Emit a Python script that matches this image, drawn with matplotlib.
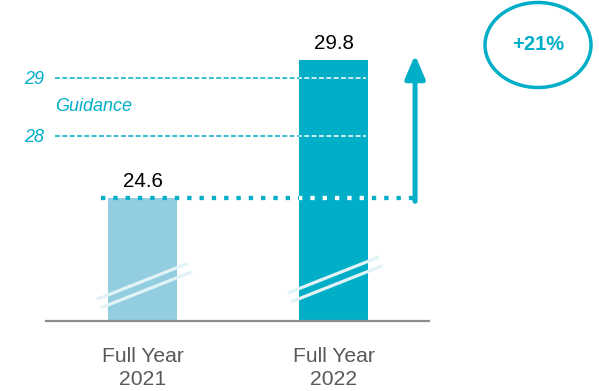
import matplotlib.pyplot as plt
import matplotlib.transforms as mtransforms
from matplotlib.patches import Ellipse
import numpy as np

plt.rcParams['font.family'] = ['Liberation Sans', 'DejaVu Sans']

# data
categories = ['Full Year\n2021', 'Full Year\n2022']
values = [24.6, 29.8]
guidance = [28, 29]
bar_colors = ['#92CEE0', '#00AEC7']

teal = '#00AEC7'
growth = (values[1] / values[0] - 1) * 100

# broken (not-to-scale) value axis: value -> pixel height above the baseline
anchor_vals = [-50, 0, values[0], guidance[0], guidance[1], values[1], 60]
anchor_px = [-246, 0, 122, 184.5, 242.5, 260, 260 + 30.2 * 22]


def forward(v):
    return np.interp(v, anchor_vals, anchor_px)


def inverse(h):
    return np.interp(h, anchor_px, anchor_vals)


fig = plt.figure(figsize=(5.99, 3.91), dpi=100)
ax = fig.add_axes([0, 70.5 / 391, 1, 320.5 / 391])
ax.set_yscale('function', functions=(forward, inverse))

x = np.arange(len(categories))
bars = ax.bar(x, values, width=0.361, color=bar_colors, zorder=2)

ax.set_xlim(-0.746, 2.390)
ax.set_ylim(0, inverse(320.5))

# guidance lines (white where they cross the 2022 bar)
for g in guidance:
    ax.hlines(g, -0.458, 1.170, colors=teal, linewidth=1.1,
              linestyles=(0, (3.2, 1.6)), zorder=1)
    wl = ax.hlines(g, -0.458, 1.170, colors='white', linewidth=1.1,
                   linestyles=(0, (3.2, 1.6)), zorder=3)
    wl.set_clip_path(bars[1])
ax.text(-0.458, np.mean(guidance), 'Guidance', color=teal, fontsize=13,
        style='italic', ha='left', va='center')

# dotted reference line at 2021 level
dot = dict(linewidth=3.1, linestyle=(0, (1.0, 1.86)), dash_capstyle='butt')
ax.plot([-0.217, 1.427], [values[0]] * 2, color=teal, zorder=4, **dot)
wd, = ax.plot([-0.217, 1.427], [values[0]] * 2, color='white', zorder=5, **dot)
wd.set_clip_path(bars[1])

# growth arrow
tip = mtransforms.offset_copy(ax.transData, fig=fig, x=0, y=4, units='points')
tail = mtransforms.offset_copy(ax.transData, fig=fig, x=0, y=-2, units='points')
ax.annotate('', xy=(1.427, values[1]), xycoords=tip,
            xytext=(1.427, values[0]), textcoords=tail,
            arrowprops=dict(arrowstyle='-|>,head_length=0.7,head_width=0.3',
                            mutation_scale=20, color=teal, lw=3.6,
                            shrinkA=0, shrinkB=0), zorder=6)

# value labels
for xi, v in zip(x, values):
    ax.annotate(f'{v:.1f}', xy=(xi, v), xytext=(0, 12.5),
                textcoords='offset points', ha='center', va='center',
                fontsize=14.8, color='black')

# axis-break marks on the bars
break_offsets = [0.392, 0.455]
for xi, off in zip(x, break_offsets):
    trans = fig.dpi_scale_trans + mtransforms.ScaledTranslation(xi, 0, ax.transData)
    for dx, dy in [(0, 0), (0.035, -0.087)]:
        ax.plot([-0.455 + dx, 0.455 + dx], [off - 0.18 + dy, off + 0.18 + dy],
                color='#E2F3F8', linewidth=2.3, transform=trans,
                solid_capstyle='butt', zorder=3)

# growth bubble
ax.add_patch(Ellipse((538 / 599, 1 - 45 / 320.5), 106 / 599, 85 / 320.5,
                     transform=ax.transAxes, fill=False, edgecolor=teal,
                     linewidth=2.5, clip_on=False))
ax.text(538 / 599, 1 - 45 / 320.5, f'+{growth:.0f}%', transform=ax.transAxes,
        ha='center', va='center', fontsize=14.5, fontweight='bold', color=teal)

# axes styling
ax.set_xticks(x, categories)
ax.tick_params(axis='x', length=0, pad=19, labelsize=15.2, labelcolor='#595959')
for lab in ax.get_xticklabels():
    lab.set_linespacing(1.25)
ax.set_yticks(guidance, [str(g) for g in guidance])
ax.tick_params(axis='y', length=0, pad=-31.7, labelsize=13, labelcolor=teal)
for lab in ax.get_yticklabels():
    lab.set_style('italic')
for side in ['top', 'right', 'left']:
    ax.spines[side].set_visible(False)
ax.spines['bottom'].set_color('#8C8C8C')
ax.spines['bottom'].set_linewidth(1.6)
ax.spines['bottom'].set_bounds(-0.505, 1.5)
ax.patch.set_alpha(0)

fig.savefig('out.png', dpi=100)
